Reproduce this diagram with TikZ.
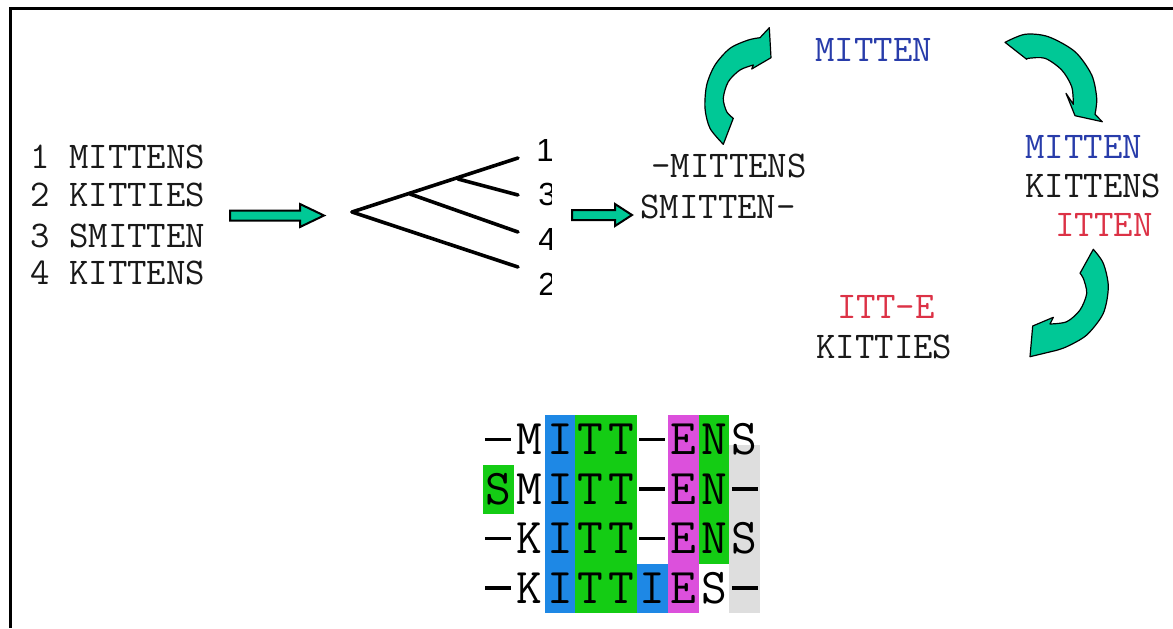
\documentclass[tikz,border=0pt]{standalone}
\usepackage{fontspec}
\setmainfont{Liberation Serif}
\newfontfamily\leaffont{Liberation Sans}
\definecolor{mint}{RGB}{0,200,150}
\definecolor{seqblue}{RGB}{40,60,170}
\definecolor{seqred}{RGB}{220,50,70}
\definecolor{alblue}{RGB}{30,136,229}
\definecolor{algreen}{RGB}{20,204,20}
\definecolor{almag}{RGB}{220,80,220}
\definecolor{algray}{RGB}{222,222,222}
\newcommand\gapdash{\rule[6.8pt]{13pt}{1.6pt}}
\def\rowA{\gapdash,M,I,T,T,\gapdash,E,N,S}
\def\rowB{S,M,I,T,T,\gapdash,E,N,\gapdash}
\def\rowC{\gapdash,K,I,T,T,\gapdash,E,N,S}
\def\rowD{\gapdash,K,I,T,T,I,E,S,\gapdash}
\begin{document}
\begin{tikzpicture}[x=0.5pt,y=-0.5pt,
  seq/.style={font=\ttfamily\addfontfeature{FakeBold=0.6}\fontsize{18.86}{22}\selectfont, anchor=west, inner sep=0pt, text=black!90},
  alch/.style={font=\ttfamily\addfontfeature{FakeBold=0.9}\fontsize{25}{30}\selectfont, anchor=base, inner sep=0pt, text=black},
  leaflab/.style={font=\leaffont\fontsize{16}{18}\selectfont, anchor=west, inner sep=0pt, text=black},
  treeline/.style={line width=1.8pt, line cap=round},
  blockarrow/.style={fill=mint, draw=black, line width=1pt, line join=miter},
  curvearrow/.style={fill=mint, draw=black, line width=0.6pt, line join=round},
  frameline/.style={line width=1.5pt}]
\useasboundingbox (0,0) rectangle (1173,628);

% frame
\draw[frameline] (10.5,628) -- (10.5,8.5) -- (1173,8.5);

% input sequences
\node[seq] (s1) at (30,157) {1 MITTENS};
\node[seq] (s2) at (30,195) {2 KITTIES};
\node[seq] (s3) at (30,236) {3 SMITTEN};
\node[seq] (s4) at (30,273) {4 KITTENS};

% straight arrow 1
\draw[blockarrow] (230,210.5) -- (300,210.5) -- (300,204) -- (324,215.5) -- (300,227) -- (300,220.5) -- (230,220.5) -- cycle;

% guide tree
\coordinate (root) at (352,212);
\coordinate (nA) at (410,194);
\coordinate (nB) at (458,179);
\coordinate (leaf1) at (518,158);
\coordinate (leaf3) at (518,195);
\coordinate (leaf4) at (518,232);
\coordinate (leaf2) at (518,267);
\draw[treeline] (root) -- (leaf1);
\draw[treeline] (nB) -- (leaf3);
\draw[treeline] (nA) -- (leaf4);
\draw[treeline] (root) -- (leaf2);
\begin{scope}
\clip (0,0) rectangle (551,628);
\node[leaflab] (l1) at (536,150) {1};
\node[leaflab] (l3) at (538,194) {3};
\node[leaflab] (l4) at (538,239) {4};
\node[leaflab] (l2) at (538,284) {2};
\end{scope}

% straight arrow 2
\draw[blockarrow] (572,210) -- (615,210) -- (615,204) -- (632,215) -- (615,226) -- (615,220) -- (572,220) -- cycle;

% first pair
\node[seq] (p1) at (651,166) {-MITTENS};
\node[seq] (p2) at (640,207) {SMITTEN-};

% cycle texts
\node[seq, text=seqblue] (c1) at (815,50) {MITTEN};
\node[seq, text=seqblue] (c2) at (1025,147) {MITTEN};
\node[seq] (c3) at (1025,186) {KITTENS};
\node[seq, text=seqred] (c4) at (1055,225) {ITTEN};
\node[seq, text=seqred] (c5) at (837,307) {ITT-E};
\node[seq] (c6) at (816,347) {KITTIES};

% curved arrow 1 (left, upwards)
\filldraw[curvearrow] (723.3,144.3)
  -- plot[smooth] coordinates {(723.3,144.3) (710,128.3) (705,108.3) (706.7,85) (715,65) (730,48.3) (748.3,40) (760,37.7)}
  -- (769.3,27.7) -- (771,57.7) -- (751.7,69) -- (753.3,65)
  -- plot[smooth] coordinates {(753.3,65) (740,70) (728.3,81.7) (723.3,98.3) (726.7,111.7) (733.3,118.3)}
  -- cycle;

% curved arrow 2 (top right, downwards)
\filldraw[curvearrow] (1005,42.3)
  -- plot[smooth] coordinates {(1005,42.3) (1025,34.3) (1048.3,36.7) (1075,51.7) (1091.7,75) (1096.7,98.3) (1095,114.3)}
  -- (1102.3,121.7) -- (1075,115.7) -- (1066,93.3) -- (1073.3,104.3)
  -- plot[smooth] coordinates {(1073.3,104.3) (1071.7,86.7) (1061.7,70) (1045,58.3) (1028.3,58.3) (1026.7,59.3)}
  -- cycle;

% curved arrow 3 (right, down-left)
\filldraw[curvearrow] (1093.3,249.3)
  -- plot[smooth] coordinates {(1093.3,249.3) (1103.3,263.3) (1108.3,286.7) (1103.3,313.3) (1086.7,335) (1066.7,346.7) (1055,350.7)}
  -- (1030,356.7) -- (1032.7,326) -- (1053.3,317.3) -- (1050,324)
  -- plot[smooth] coordinates {(1050,324) (1066.7,321.7) (1080,310) (1086.7,293.3) (1083.3,278.3) (1080,273.3)}
  -- cycle;

% final alignment: coloured columns
\fill[algreen] (483,464.5) rectangle (513.8,514);
\fill[alblue] (544.6,415) rectangle (575.4,613);
\fill[algreen] (575.4,415) rectangle (637,613);
\fill[alblue] (637,563.5) rectangle (667.8,613);
\fill[almag] (667.8,415) rectangle (698.6,613);
\fill[algreen] (698.6,415) rectangle (729.4,563.5);
\fill[algray] (729.4,445) rectangle (760.2,613);

\foreach \ch [count=\c from 0] in \rowA {\node[alch] (a1-\c) at ({498.4+30.8*\c},{454.75}) {\ch};}
\foreach \ch [count=\c from 0] in \rowB {\node[alch] (a2-\c) at ({498.4+30.8*\c},{504.25}) {\ch};}
\foreach \ch [count=\c from 0] in \rowC {\node[alch] (a3-\c) at ({498.4+30.8*\c},{553.75}) {\ch};}
\foreach \ch [count=\c from 0] in \rowD {\node[alch] (a4-\c) at ({498.4+30.8*\c},{603.25}) {\ch};}
\end{tikzpicture}
\end{document}
